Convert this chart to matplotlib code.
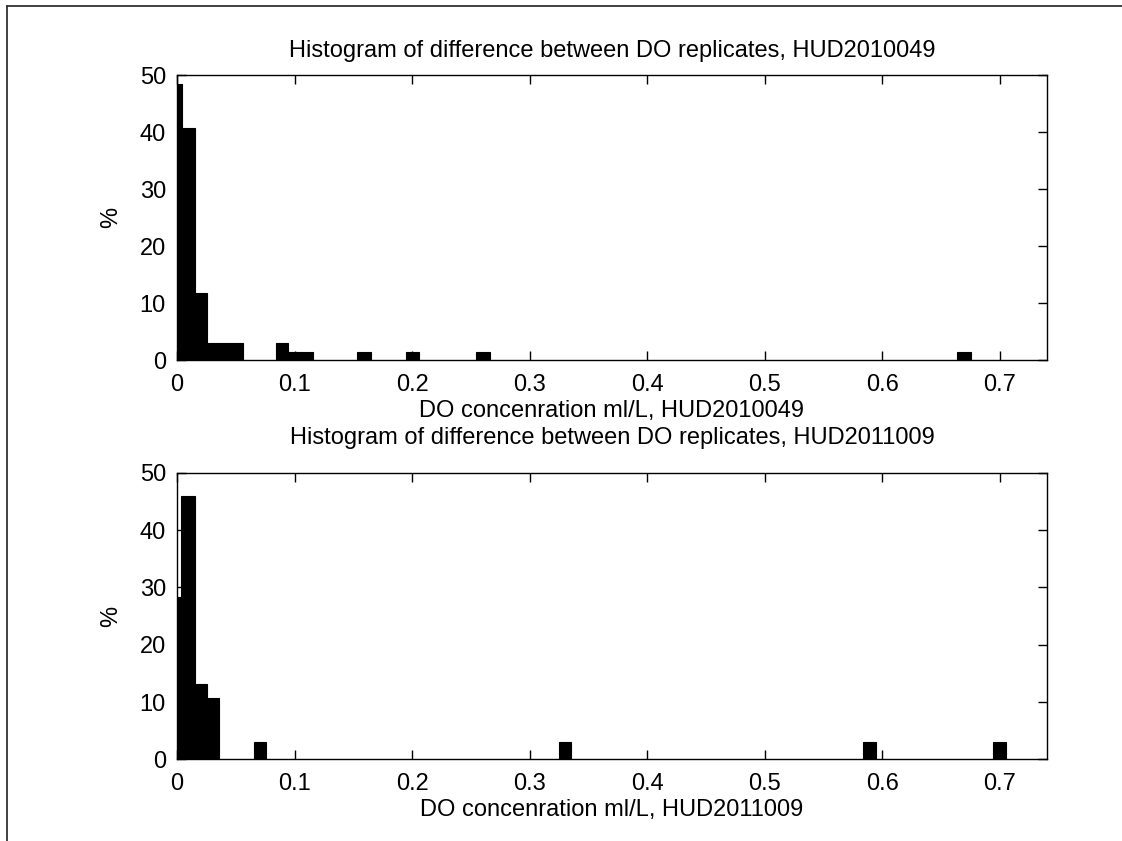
import numpy as np
import matplotlib
matplotlib.use('Agg')
import matplotlib.pyplot as plt
from matplotlib.lines import Line2D

plt.rcParams['font.family'] = ['Liberation Sans', 'DejaVu Sans']

# bin edges (ml/L) and bar heights (%)
top_lo = [0.0, 0.0040, 0.0153, 0.0258, 0.0358, 0.0458, 0.0843, 0.0948, 0.1055, 0.1535, 0.1950, 0.2543, 0.6633]
top_hi = [0.0040, 0.0153, 0.0258, 0.0358, 0.0458, 0.0559, 0.0948, 0.1055, 0.1161, 0.1652, 0.2063, 0.2659, 0.6752]
top_pct = [48.5, 40.7, 11.8, 3.0, 3.0, 3.0, 3.0, 1.5, 1.5, 1.5, 1.5, 1.5, 1.5]

bot_lo = [0.0, 0.0030, 0.0153, 0.0253, 0.0653, 0.3246, 0.5837, 0.6946]
bot_hi = [0.0030, 0.0153, 0.0253, 0.0358, 0.0754, 0.3356, 0.5946, 0.7056]
bot_pct = [28.4, 46.0, 13.1, 10.75, 3.0, 3.0, 3.0, 3.0]

cruises = ['HUD2010049', 'HUD2011009']
xticks = [0, 0.1, 0.2, 0.3, 0.4, 0.5, 0.6, 0.7]
xticklabels = ['0', '0.1', '0.2', '0.3', '0.4', '0.5', '0.6', '0.7']
yticks = [0, 10, 20, 30, 40, 50]

fig = plt.figure(figsize=(11.22, 8.41), dpi=100)
ax1 = fig.add_axes([0.1578, 0.5716, 0.7751, 0.3392])
ax2 = fig.add_axes([0.1578, 0.0971, 0.7751, 0.3408])

panels = [(ax1, top_lo, top_hi, top_pct, cruises[0], 13),
          (ax2, bot_lo, bot_hi, bot_pct, cruises[1], 21)]
for ax, lo, hi, pct, name, tpad in panels:
    lo = np.array(lo)
    hi = np.array(hi)
    ax.bar(lo, pct, width=hi - lo, align='edge', color='black',
           edgecolor='black', linewidth=0.8)
    ax.set_xlim(0, 0.74)
    ax.set_ylim(0, 50)
    ax.set_xticks(xticks)
    ax.set_xticklabels(xticklabels)
    ax.set_yticks(yticks)
    ax.tick_params(direction='in', length=6.5, width=1, top=True, right=True,
                   labelsize=17, colors='black')
    ax.tick_params(axis='x', pad=10)
    ax.tick_params(axis='y', pad=8)
    for s in ax.spines.values():
        s.set_linewidth(1)
    ax.set_title('Histogram of difference between DO replicates, ' + name,
                 fontsize=17, pad=tpad)
    ax.set_xlabel('DO concenration ml/L, ' + name, fontsize=17, labelpad=3)
    ax.set_ylabel('%', fontsize=17, labelpad=13)

# window frame visible in the screenshot
fig.add_artist(Line2D([6.5 / 1122, 6.5 / 1122], [1 - 5.5 / 841, 0],
                      transform=fig.transFigure, color='#333333', linewidth=1.3))
fig.add_artist(Line2D([6.5 / 1122, 1], [1 - 5.5 / 841, 1 - 5.5 / 841],
                      transform=fig.transFigure, color='#333333', linewidth=1.3))

fig.savefig('out.png', dpi=100, facecolor='white')
